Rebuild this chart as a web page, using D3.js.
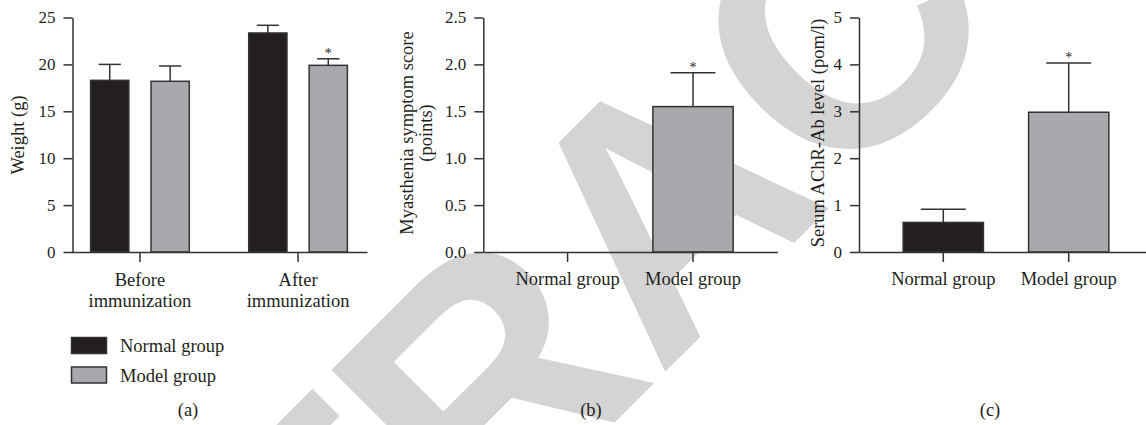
<!DOCTYPE html>
<html>
<head>
<meta charset="utf-8">
<script src="https://cdn.jsdelivr.net/npm/d3@7"></script>
<style>
  body { margin: 0; background: #fff; }
  svg { display: block; }
</style>
</head>
<body>
<div id="chart"></div>
<script>
// Data
const seriesNames = ["Normal group", "Model group"];
const seriesColors = ["#231f20", "#a7a9ac"];

// (a) body weight
const weightGroups = ["Before immunization", "After immunization"];
const weightGroupLines = [["Before", "immunization"], ["After", "immunization"]];
const weightNormal = [18.3, 23.35];
const weightNormalErr = [1.7, 0.82];
const weightModel = [18.2, 19.9];
const weightModelErr = [1.63, 0.7];
const weightModelStar = [false, true];
const weightTicks = [0, 5, 10, 15, 20, 25];

// (b) myasthenia score
const scoreMean = [0, 1.55];
const scoreErr = [0, 0.36];
const scoreStar = [false, true];
const scoreTicks = [0, 0.5, 1.0, 1.5, 2.0, 2.5];

// (c) serum AChR-Ab
const achrMean = [0.63, 2.98];
const achrErr = [0.28, 1.05];
const achrStar = [false, true];
const achrTicks = [0, 1, 2, 3, 4, 5];

const panelLetters = ["(a)", "(b)", "(c)"];

const W = 1146, H = 425;
const serif = "'Liberation Serif', 'Times New Roman', serif";
const ink = "#231f20";
const axisInk = "#333";
const y0 = 252, y1 = 17.5;

const svg = d3.select("#chart").append("svg")
    .attr("width", W)
    .attr("height", H);

// watermark behind everything
svg.append("text")
    .attr("transform", "translate(659,378) rotate(-45)")
    .attr("x", -939)
    .attr("y", 0)
    .attr("font-family", "'Liberation Sans', Arial, sans-serif")
    .attr("font-weight", "bold")
    .attr("font-size", 345)
    .attr("fill", "#d4d4d4")
    .text("RETRACTED");

function yAxis(g, y, ticks, fmt) {
    g.call(d3.axisLeft(y).tickValues(ticks).tickSize(9).tickSizeOuter(0)
        .tickPadding(8).tickFormat(fmt));
    styleAxis(g, 17);
}

function styleAxis(g, fs) {
    g.select(".domain").attr("stroke", axisInk).attr("stroke-width", 1.5);
    g.selectAll(".tick line").attr("stroke", axisInk).attr("stroke-width", 1.5);
    g.selectAll(".tick text")
        .attr("font-family", serif)
        .attr("font-size", fs)
        .attr("fill", ink);
}

function yTitle(lines, x, cy) {
    const t = svg.append("text")
        .attr("transform", `translate(${x},${cy}) rotate(-90)`)
        .attr("text-anchor", "middle")
        .attr("font-family", serif)
        .attr("font-size", 18.5)
        .attr("fill", ink);
    lines.forEach((s, i) => {
        t.append("tspan")
            .attr("x", 0)
            .attr("y", (i - (lines.length - 1)) * 19)
            .text(s);
    });
}

// draws one bar with its upper error bar and optional star
function bar(g, x, w, y, v, e, color, star, capFrac) {
    g.append("rect")
        .attr("x", x)
        .attr("y", y(v))
        .attr("width", w)
        .attr("height", y(0) - y(v))
        .attr("fill", color)
        .attr("stroke", axisInk)
        .attr("stroke-width", 1.5);
    if (e > 0) {
        const cx = x + w / 2, cw = w * capFrac;
        g.append("line")
            .attr("x1", cx).attr("x2", cx)
            .attr("y1", y(v)).attr("y2", y(v + e))
            .attr("stroke", axisInk).attr("stroke-width", 1.5);
        g.append("line")
            .attr("x1", cx - cw / 2).attr("x2", cx + cw / 2)
            .attr("y1", y(v + e)).attr("y2", y(v + e))
            .attr("stroke", axisInk).attr("stroke-width", 1.5);
    }
    if (star) {
        g.append("text")
            .attr("x", x + w / 2)
            .attr("y", y(v + e) - 1)
            .attr("text-anchor", "middle")
            .attr("font-family", serif)
            .attr("font-size", 14)
            .attr("fill", ink)
            .text("*");
    }
}

// ---- panel (a)
{
    const y = d3.scaleLinear().domain([0, 25]).range([y0, y1]);
    const x = d3.scaleBand().domain(weightGroups).range([71, 367])
        .paddingInner(0.376).paddingOuter(0.124);
    const xs = d3.scaleBand().domain(seriesNames).range([0, x.bandwidth()])
        .paddingInner(0.367).paddingOuter(0);
    const g = svg.append("g");

    weightGroups.forEach((grp, i) => {
        const vals = [weightNormal[i], weightModel[i]];
        const errs = [weightNormalErr[i], weightModelErr[i]];
        const stars = [false, weightModelStar[i]];
        seriesNames.forEach((s, j) => {
            bar(g, x(grp) + xs(s), xs.bandwidth(), y, vals[j], errs[j],
                seriesColors[j], stars[j], 0.58);
        });
    });

    const xa = svg.append("g").attr("transform", `translate(0,${y0})`);
    xa.call(d3.axisBottom(x).tickSize(10).tickSizeOuter(0).tickFormat(""));
    styleAxis(xa, 18.5);
    weightGroups.forEach((grp, i) => {
        const t = svg.append("text")
            .attr("text-anchor", "middle")
            .attr("font-family", serif)
            .attr("font-size", 18.5)
            .attr("fill", ink);
        weightGroupLines[i].forEach((s, k) => {
            t.append("tspan")
                .attr("x", x(grp) + x.bandwidth() / 2)
                .attr("y", 286 + k * 20.5)
                .text(s);
        });
    });

    const ya = svg.append("g").attr("transform", "translate(72.5,0)");
    yAxis(ya, y, weightTicks, d3.format("d"));
    yTitle(["Weight (g)"], 24, 135);

    // legend
    seriesNames.forEach((s, j) => {
        svg.append("rect")
            .attr("x", 71.5).attr("y", 337.5 + j * 29.5)
            .attr("width", 35).attr("height", 16)
            .attr("fill", seriesColors[j])
            .attr("stroke", axisInk).attr("stroke-width", 1.5);
        svg.append("text")
            .attr("x", 120).attr("y", 352 + j * 29.5)
            .attr("font-family", serif)
            .attr("font-size", 18.5)
            .attr("fill", ink)
            .text(s);
    });
}

// ---- panels (b) and (c)
function simplePanel(left, mean, err, star, ticks, fmt, title, titleX) {
    const y = d3.scaleLinear().domain([ticks[0], ticks[ticks.length - 1]]).range([y0, y1]);
    const x = d3.scaleBand().domain(seriesNames).range([left, left + 294])
        .paddingInner(0.36).paddingOuter(0.352);
    const g = svg.append("g");
    seriesNames.forEach((s, j) => {
        if (mean[j] > 0) {
            bar(g, x(s), x.bandwidth(), y, mean[j], err[j], seriesColors[j], star[j], 0.56);
        }
    });
    const xa = svg.append("g").attr("transform", `translate(0,${y0})`);
    xa.call(d3.axisBottom(x).tickSize(10).tickSizeOuter(0).tickPadding(22));
    styleAxis(xa, 18.5);
    xa.selectAll(".tick text").attr("dy", 0).attr("y", 33);

    const ya = svg.append("g").attr("transform", `translate(${left},0)`);
    yAxis(ya, y, ticks, fmt);
    yTitle(title, titleX, 133);
}

simplePanel(483.3, scoreMean, scoreErr, scoreStar, scoreTicks, d3.format(".1f"),
    ["Myasthenia symptom score", "(points)"], 432);
simplePanel(859, achrMean, achrErr, achrStar, achrTicks, d3.format("d"),
    ["Serum AChR-Ab level (pom/l)"], 824);

// panel letters
[188, 591, 990].forEach((cx, i) => {
    svg.append("text")
        .attr("x", cx).attr("y", 416)
        .attr("text-anchor", "middle")
        .attr("font-family", serif)
        .attr("font-size", 18.5)
        .attr("fill", ink)
        .text(panelLetters[i]);
});
</script>
</body>
</html>
